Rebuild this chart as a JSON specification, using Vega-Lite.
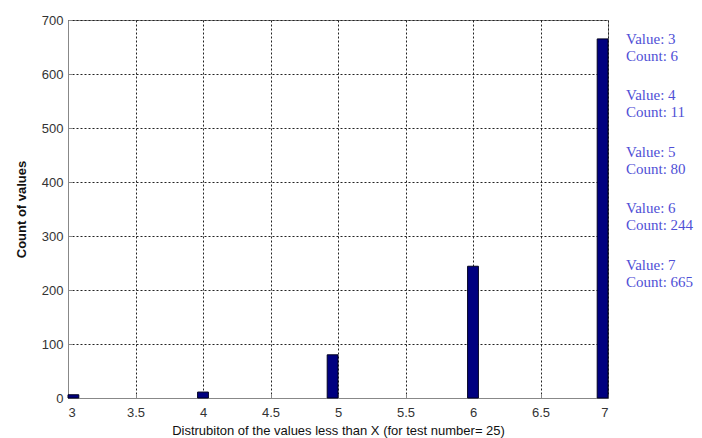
{
  "$schema": "https://vega.github.io/schema/vega-lite/v6.json",
  "width": 540,
  "height": 378,
  "autosize": {"type": "none"},
  "padding": {"left": 68, "top": 20, "right": 94, "bottom": 40},
  "background": "white",
  "config": {
    "view": {"stroke": "#888888", "strokeWidth": 1},
    "axis": {
      "labelFont": "Liberation Sans",
      "labelFontSize": 13,
      "labelColor": "#333333",
      "titleFont": "Liberation Sans",
      "titleFontSize": 13,
      "titleColor": "#111111",
      "domainColor": "#888888",
      "tickColor": "#888888",
      "tickSize": -4,
      "grid": true,
      "gridColor": "#222222",
      "gridDash": [2, 2],
      "gridOpacity": 1
    }
  },
  "data": {
    "values": [
      {"value": 3, "bin_start": 3.0, "bin_end": 3.08, "count": 6},
      {"value": 4, "bin_start": 3.96, "bin_end": 4.04, "count": 11},
      {"value": 5, "bin_start": 4.92, "bin_end": 5.0, "count": 80},
      {"value": 6, "bin_start": 5.96, "bin_end": 6.04, "count": 244},
      {"value": 7, "bin_start": 6.92, "bin_end": 7.0, "count": 665}
    ]
  },
  "layer": [
    {
      "mark": {"type": "rect", "fill": "#000080", "stroke": "#000020", "strokeWidth": 1},
      "encoding": {
        "x": {
          "field": "bin_start",
          "type": "quantitative",
          "scale": {"domain": [3, 7], "nice": false, "zero": false},
          "axis": {
            "values": [3, 3.5, 4, 4.5, 5, 5.5, 6, 6.5, 7],
            "format": "~g",
            "labelPadding": 12,
            "title": "Distrubiton of the values less than X (for test number= 25)",
            "titlePadding": 5,
            "titleFontWeight": "normal"
          }
        },
        "x2": {"field": "bin_end"},
        "y": {
          "field": "count",
          "type": "quantitative",
          "scale": {"domain": [0, 700], "nice": false},
          "axis": {
            "values": [0, 100, 200, 300, 400, 500, 600, 700],
            "labelPadding": 9,
            "title": "Count of values",
            "titlePadding": 13,
            "titleFontWeight": "bold"
          }
        },
        "y2": {"datum": 0}
      }
    },
    {
      "transform": [
        {"calculate": "'Value: ' + datum.value + '\\n' + 'Count: ' + datum.count", "as": "label"}
      ],
      "mark": {
        "type": "text",
        "align": "left",
        "baseline": "alphabetic",
        "dx": 18,
        "font": "Liberation Serif",
        "fontSize": 15,
        "lineHeight": 17,
        "lineBreak": "\n",
        "color": "#4F4FD6",
        "clip": false
      },
      "encoding": {
        "x": {"datum": 7},
        "y": {
          "field": "value",
          "type": "quantitative",
          "scale": {"domain": [2.584, 9.274], "reverse": true, "nice": false, "zero": false},
          "axis": null
        },
        "text": {"field": "label"}
      }
    }
  ],
  "resolve": {"scale": {"y": "independent"}}
}
